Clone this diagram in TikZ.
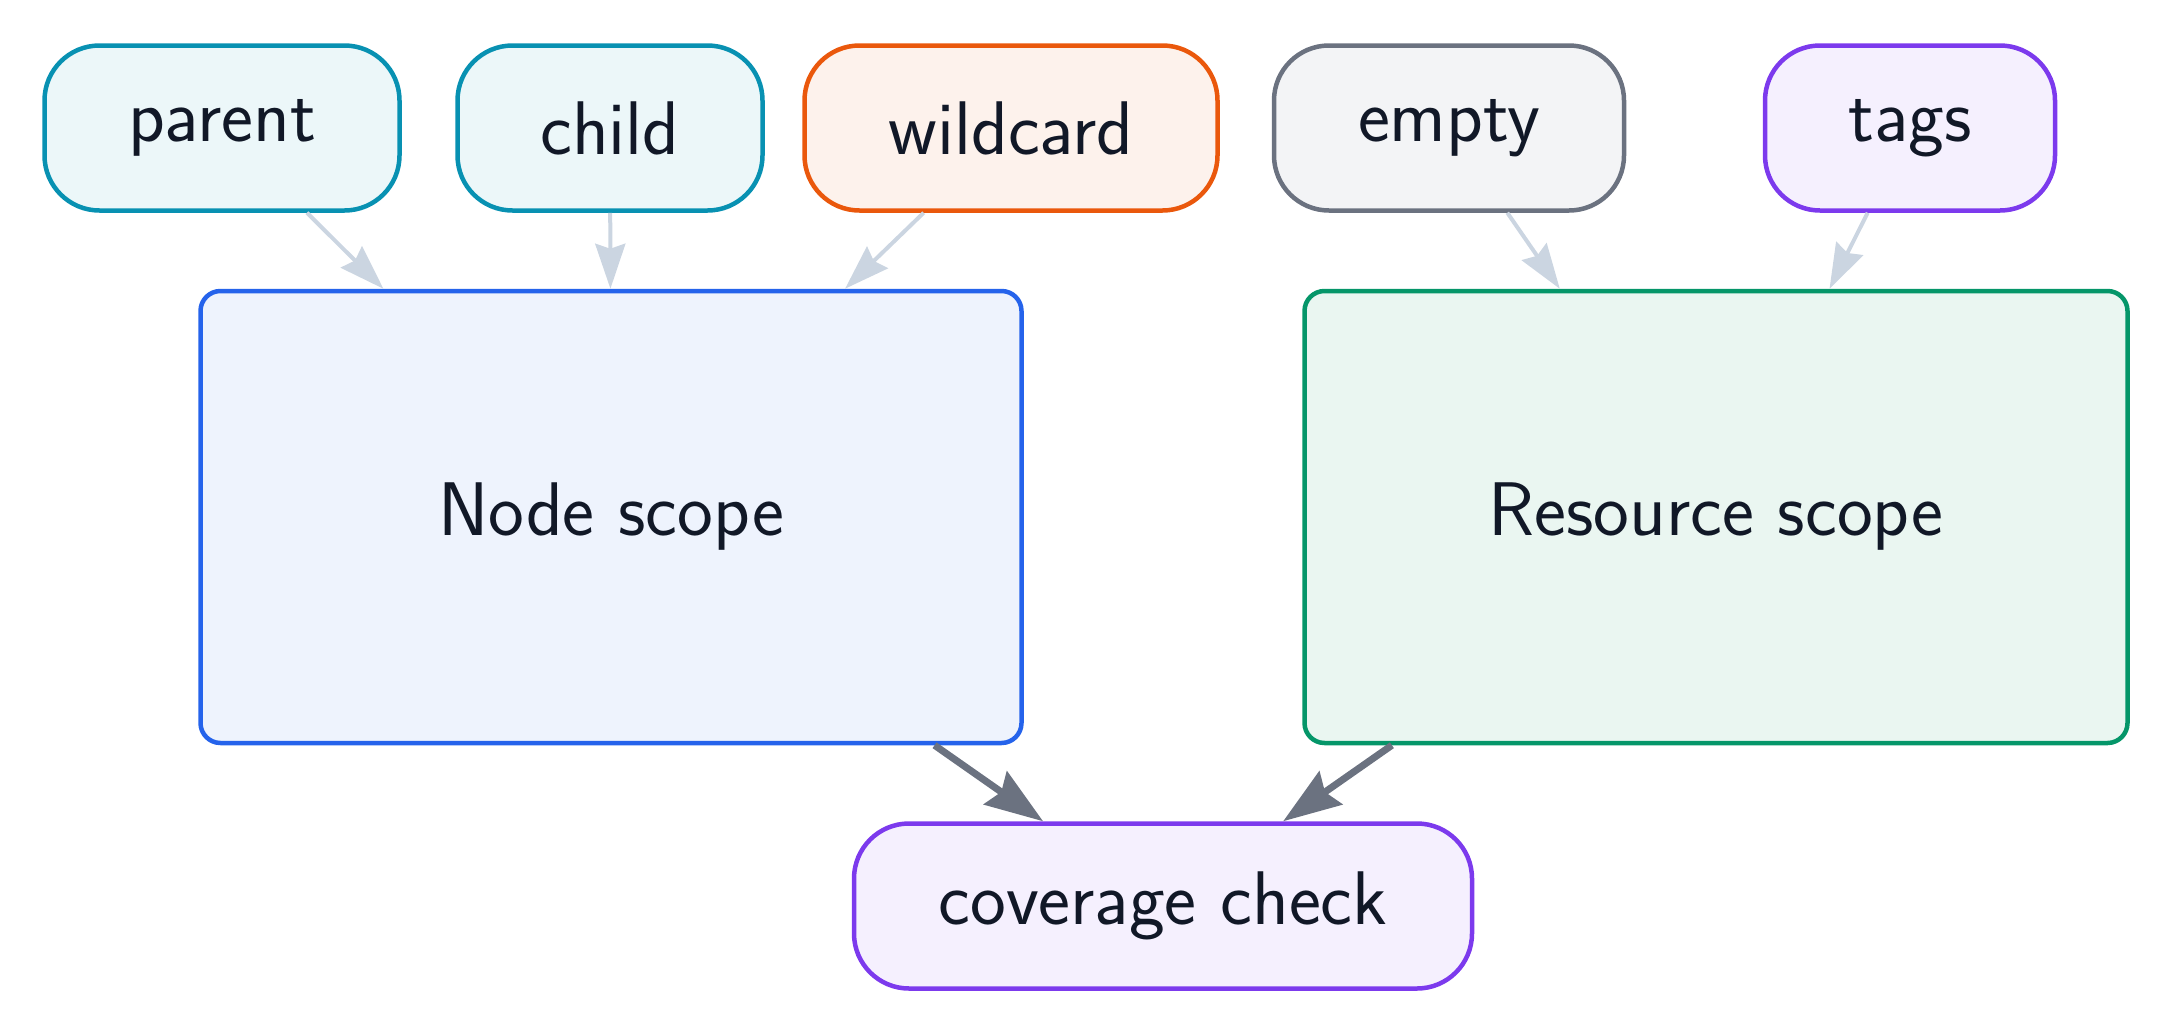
\documentclass[tikz,border=0pt]{standalone}
\usetikzlibrary{arrows.meta}
\definecolor{txt}{HTML}{111827}
\definecolor{tealS}{HTML}{0891B2}\definecolor{tealF}{HTML}{ECF7F9}
\definecolor{oraS}{HTML}{EA580C}\definecolor{oraF}{HTML}{FDF2EC}
\definecolor{grayS}{HTML}{6B7280}\definecolor{grayF}{HTML}{F3F4F6}
\definecolor{purS}{HTML}{7C3AED}\definecolor{purF}{HTML}{F5F0FE}
\definecolor{bluS}{HTML}{2563EB}\definecolor{bluF}{HTML}{EEF3FD}
\definecolor{grnS}{HTML}{059669}\definecolor{grnF}{HTML}{EAF6F1}
\definecolor{lightarr}{HTML}{CBD5E1}
\definecolor{darkarr}{HTML}{6B7280}
\tikzset{
  box/.style={draw, line width=4.5pt, rectangle, inner sep=0pt, text=txt,
    font=\sffamily\fontsize{76}{86}\selectfont},
  pill/.style={box, rounded corners=55pt, minimum height=165pt},
  big/.style={box, rounded corners=20pt, minimum height=452pt},
  lightedge/.style={draw=lightarr, line width=4pt,
    -{Stealth[length=45pt,width=30pt,inset=5pt]}},
  darkedge/.style={draw=darkarr, line width=7pt,
    -{Stealth[length=58pt,width=40pt,inset=7pt]}},
}
\begin{document}
\begin{tikzpicture}[x=1pt,y=-1pt]
\useasboundingbox (0,0) rectangle (2174,1034);
\node[pill, draw=tealS, fill=tealF, minimum width=355pt] (parent) at (222,128) {parent};
\node[pill, draw=tealS, fill=tealF, minimum width=305pt] (child) at (610,128) {child};
\node[pill, draw=oraS, fill=oraF, minimum width=413pt] (wildcard) at (1011,128) {wildcard};
\node[pill, draw=grayS, fill=grayF, minimum width=350pt] (empty) at (1449,128) {empty};
\node[pill, draw=purS, fill=purF, minimum width=290pt] (tags) at (1910,128) {tags};
\node[big, draw=bluS, fill=bluF, minimum width=821pt] (nodescope) at (611,517) {Node scope};
\node[big, draw=grnS, fill=grnF, minimum width=823pt] (resscope) at (1716,517) {Resource scope};
\node[pill, draw=purS, fill=purF, minimum width=618pt] (coverage) at (1163,906) {coverage check};
\draw[lightedge] (parent) -- (nodescope);
\draw[lightedge] (child) -- (nodescope);
\draw[lightedge] (wildcard) -- (nodescope);
\draw[lightedge] (empty) -- (resscope);
\draw[lightedge] (tags) -- (resscope);
\draw[darkedge] (nodescope) -- (coverage);
\draw[darkedge] (resscope) -- (coverage);
\end{tikzpicture}
\end{document}
